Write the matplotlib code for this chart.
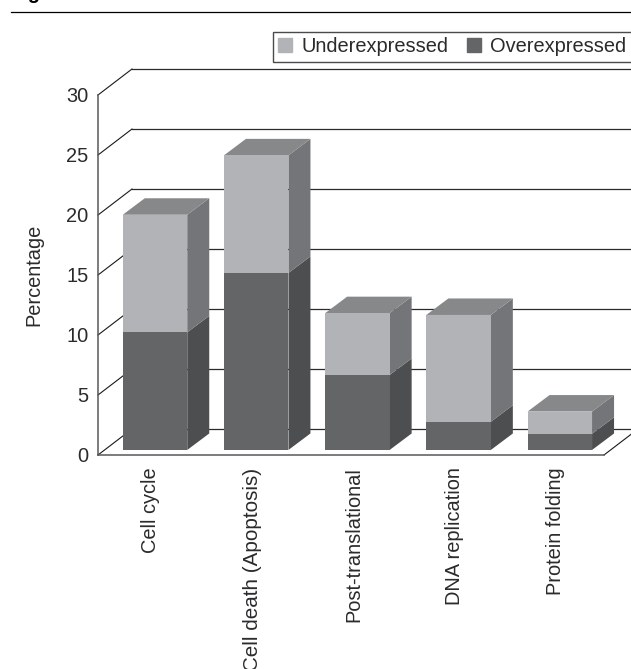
import numpy as np
from matplotlib import pyplot as plt
from matplotlib.lines import Line2D
from matplotlib.patches import Patch
from matplotlib.transforms import ScaledTranslation

categories = ['Cell cycle', 'Cell death (Apoptosis)', 'Post-translational',
              'DNA replication', 'Protein folding']
overexpressed = [9.8, 14.75, 6.25, 2.35, 1.35]
underexpressed = [9.8, 9.8, 5.15, 8.9, 1.85]
yticks = [0, 5, 10, 15, 20, 25, 30]

plt.rcParams['font.family'] = ['Liberation Sans', 'DejaVu Sans']
plt.rcParams['font.size'] = 14.4
text_color = '#2b2b2d'

W, H = 631, 669
fig = plt.figure(figsize=(W / 100, H / 100), dpi=100)
ax = fig.add_axes([98 / W, (H - 455) / H, (604 - 98) / W, 360 / H])

########################################################################
# Fake 3D sizes, in data units
########################################################################

xunit = 101.2   # px per category
yunit = 12.0    # px per percent
xlim = (-(155 - 98) / xunit, (604 - 155) / xunit)
wall_dx, wall_dy = 34 / xunit, 26 / yunit
depth_dx, depth_dy = 22 / xunit, 16.5 / yunit
bar_width = 64.5 / xunit
base = 0.42

ax.set_xlim(xlim)
ax.set_ylim(0, 30)

# back wall and floor
for t in yticks:
    ax.plot([xlim[0], xlim[0] + wall_dx], [t, t + wall_dy], color='#1a1a1a',
            lw=0.8, clip_on=False, zorder=1)
    ax.plot([xlim[0] + wall_dx, xlim[1] + wall_dx], [t + wall_dy, t + wall_dy],
            color='#2a2a2a', lw=0.9, clip_on=False, zorder=1)
ax.plot([xlim[1], xlim[1] + wall_dx], [0, wall_dy], color='#1a1a1a', lw=0.8,
        clip_on=False, zorder=1)

########################################################################
# Bars
########################################################################

x = np.arange(len(categories))
over = np.array(overexpressed)
under = np.array(underexpressed)

ax.bar(x, over, bar_width, bottom=base, color='#646567', zorder=3, clip_on=False)
ax.bar(x, under, bar_width, bottom=base + over, color='#b2b3b6', zorder=3, clip_on=False)

for i in x:
    right = i + bar_width / 2
    left = i - bar_width / 2
    y0 = base
    y1 = base + over[i]
    y2 = y1 + under[i]
    ax.fill([right, right + depth_dx, right + depth_dx, right],
            [y0, y0 + depth_dy, y1 + depth_dy, y1],
            color='#4d4e50', lw=0, zorder=2.5, clip_on=False)
    ax.fill([right, right + depth_dx, right + depth_dx, right],
            [y1, y1 + depth_dy, y2 + depth_dy, y2],
            color='#747578', lw=0, zorder=2.5, clip_on=False)
    ax.fill([left, right, right + depth_dx, left + depth_dx],
            [y2, y2, y2 + depth_dy, y2 + depth_dy],
            color='#87888a', lw=0, zorder=2.5, clip_on=False)

########################################################################
# Axes, labels, legend
########################################################################

for side in ['top', 'right']:
    ax.spines[side].set_visible(False)
for side in ['left', 'bottom']:
    ax.spines[side].set_color('#58595b')
    ax.spines[side].set_linewidth(1.1)
    ax.spines[side].set_zorder(4)
ax.patch.set_alpha(0)

ax.set_yticks(yticks)
ax.set_xticks(x)
ax.set_xticklabels(categories, rotation=90, ha='center', va='top', color=text_color)
ax.tick_params(axis='both', length=0, labelsize=14.4, labelcolor=text_color)
ax.tick_params(axis='y', pad=7)
ax.tick_params(axis='x', pad=9)
shift = ScaledTranslation(-4 / 100, 0, fig.dpi_scale_trans)
for lbl in ax.get_xticklabels():
    lbl.set_transform(lbl.get_transform() + shift)
# this one runs a little longer in the original, off the bottom edge
ax.get_xticklabels()[1].set_fontsize(14.9)

fig.text(34 / W, (H - 274.5) / H, 'Percentage', rotation=90, ha='center', va='center',
         color=text_color)

handles = [Patch(color='#b2b3b6', label='Underexpressed'),
           Patch(color='#646567', label='Overexpressed')]
leg = fig.legend(handles=handles, loc='upper left',
                 bbox_to_anchor=(273 / W, (H - 32) / H), ncol=2, frameon=True,
                 fancybox=False, framealpha=1, edgecolor='#4a4a4c',
                 handlelength=0.7, handleheight=0.7, handletextpad=0.45,
                 columnspacing=0.95, borderpad=0.27, borderaxespad=0, labelcolor=text_color)
leg.get_frame().set_linewidth(1.0)

# header rule and the cut off figure caption
fig.add_artist(Line2D([11 / W, 1], [(H - 12.2) / H, (H - 12.2) / H], color='black', lw=0.9))
fig.text(11 / W, (H + 1) / H, 'Figure', fontweight='bold', ha='left', va='baseline', color='black')

plt.savefig('out.png', dpi=100)
